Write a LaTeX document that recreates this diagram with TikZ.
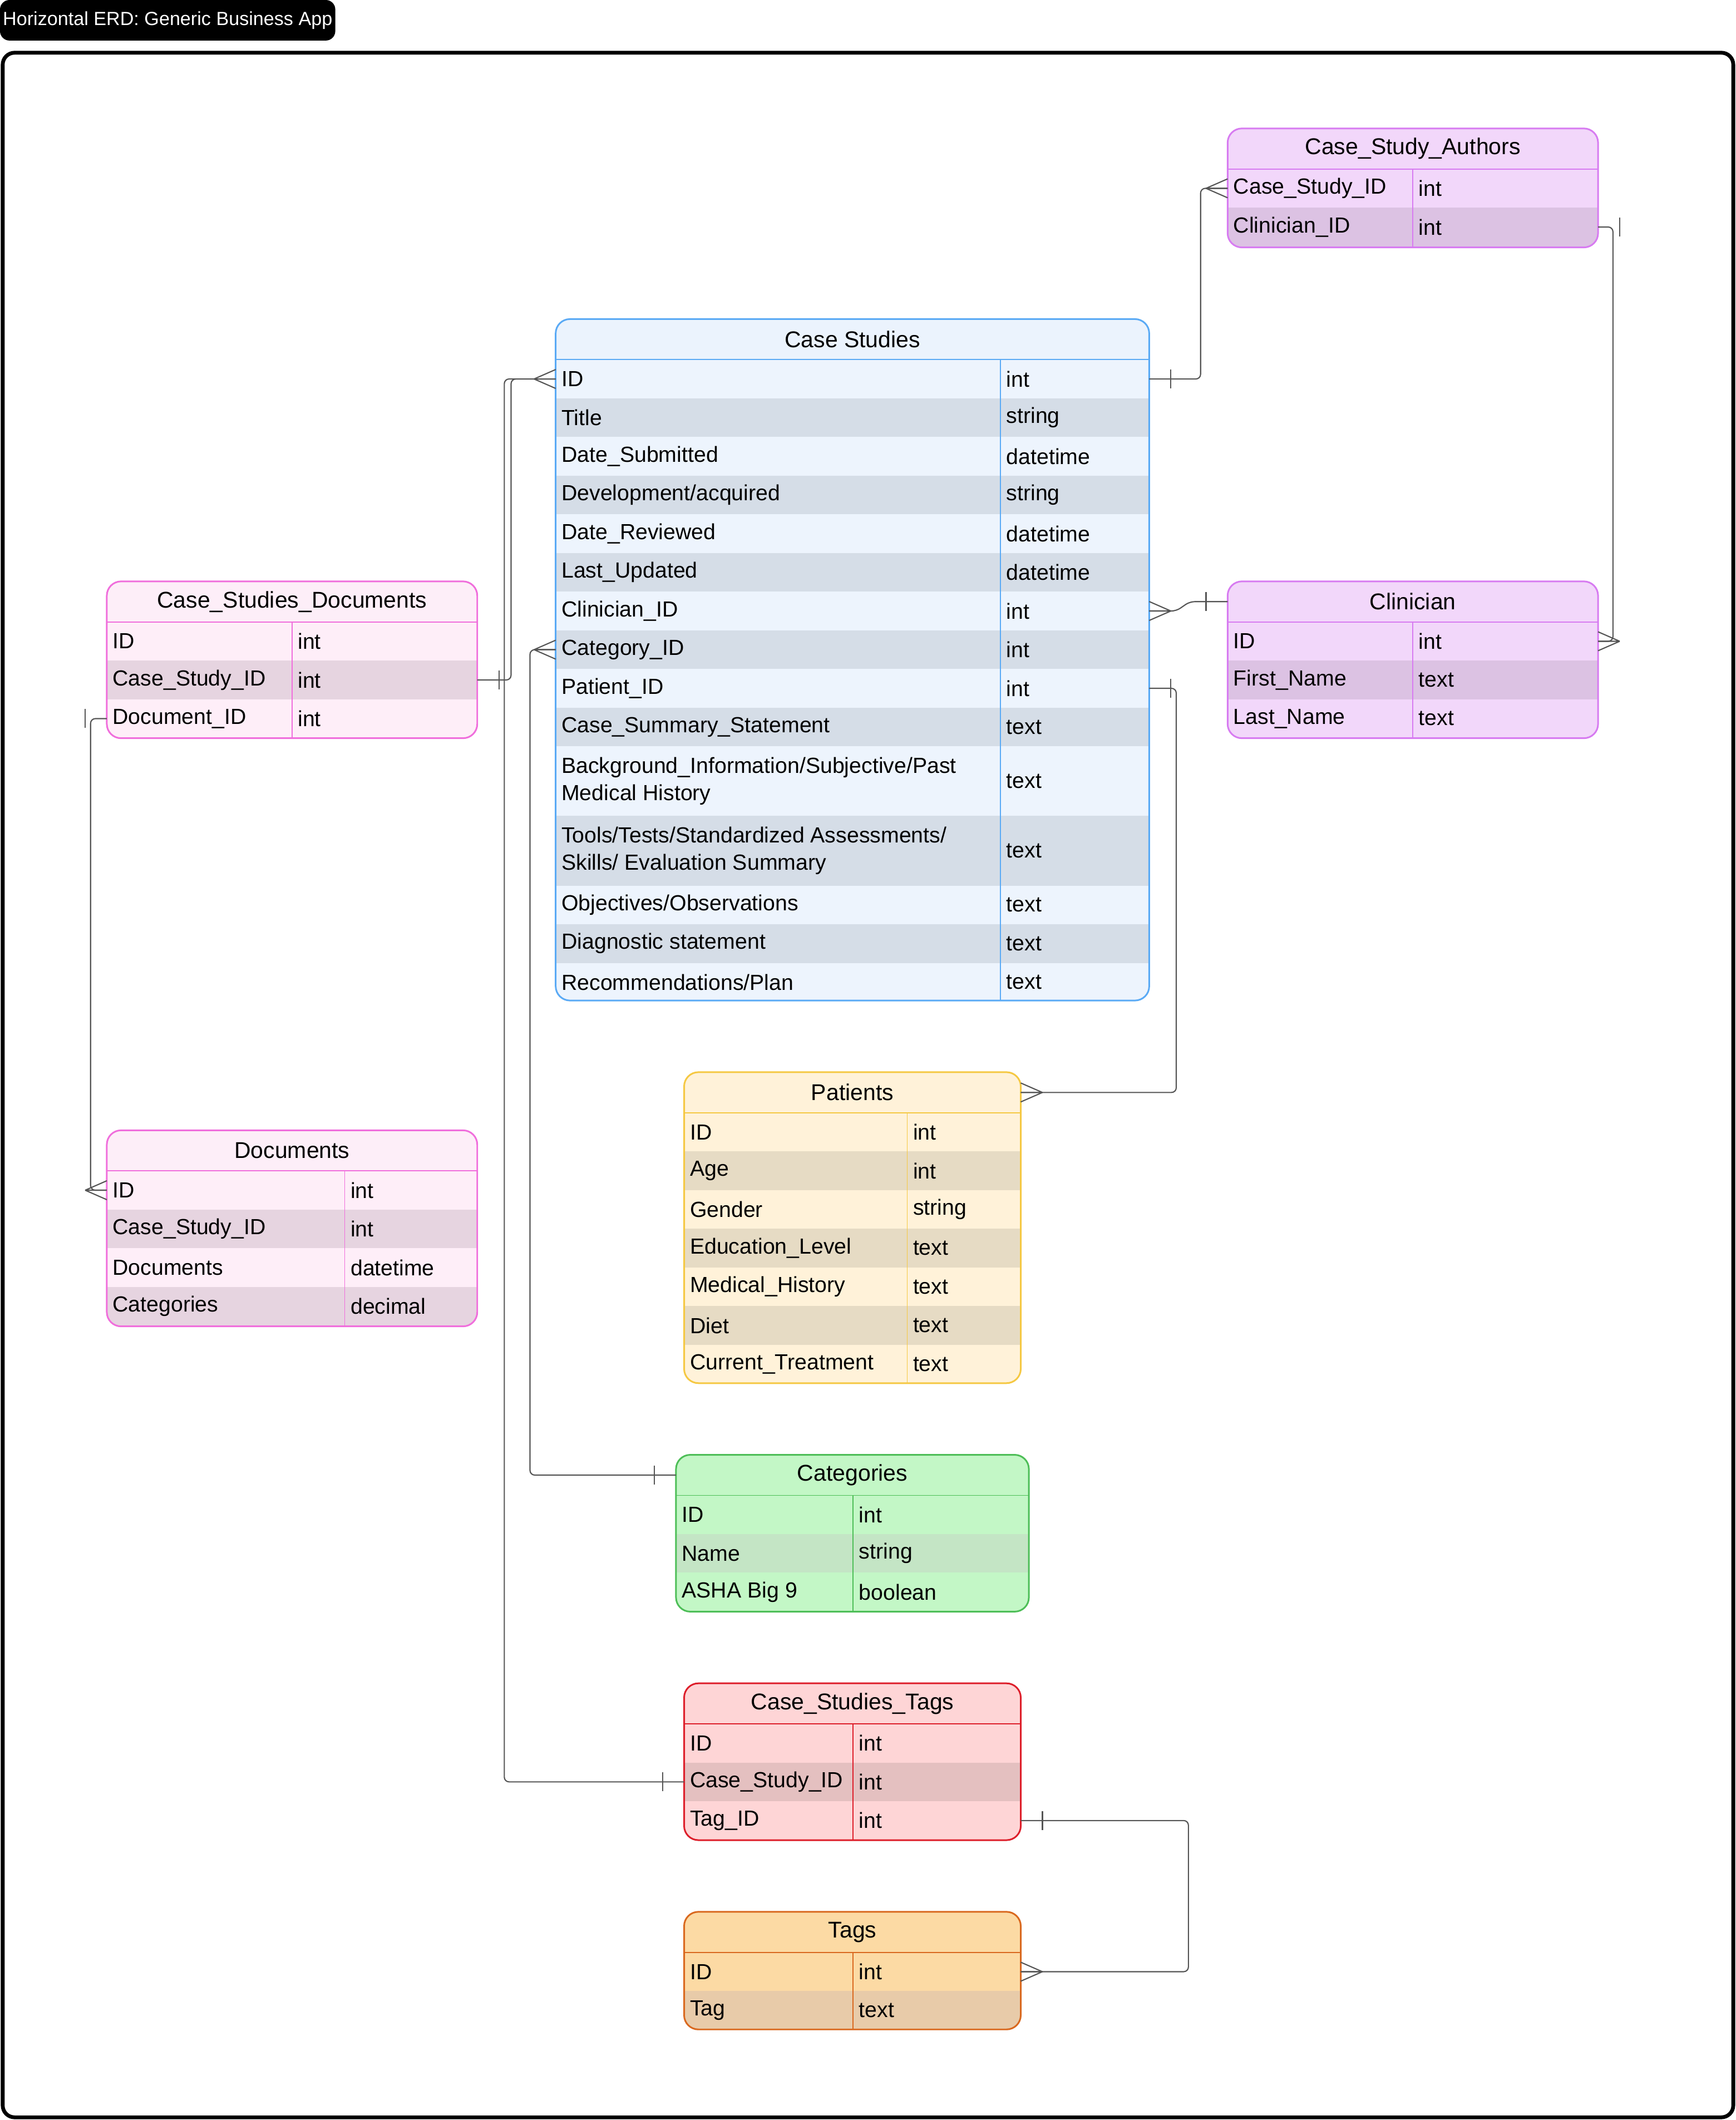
\documentclass[tikz,border=0pt]{standalone}
\usepackage{fontspec}
\setmainfont{Liberation Sans}
\usetikzlibrary{calc}
\definecolor{cshd}{HTML}{EBF3FD}\definecolor{csl}{HTML}{EDF4FD}\definecolor{csd}{HTML}{D5DDE7}\definecolor{csb}{HTML}{5AAAF5}
\definecolor{pkhd}{HTML}{FDEEF8}\definecolor{pkl}{HTML}{FEEEF8}\definecolor{pkd}{HTML}{E6D4E0}\definecolor{pkb}{HTML}{F06EDC}
\definecolor{puhd}{HTML}{F2D7FA}\definecolor{pul}{HTML}{F2D7FA}\definecolor{pud}{HTML}{DCC2E3}\definecolor{pub}{HTML}{D77BF1}
\definecolor{yehd}{HTML}{FFF2D9}\definecolor{yel}{HTML}{FFF2D9}\definecolor{yed}{HTML}{E6DBC4}\definecolor{yeb}{HTML}{F5C842}
\definecolor{grhd}{HTML}{C3F7C6}\definecolor{grl}{HTML}{C3F7C6}\definecolor{grd}{HTML}{C4E5C5}\definecolor{grb}{HTML}{4DBE57}
\definecolor{rdhd}{HTML}{FED5D6}\definecolor{rdl}{HTML}{FED5D6}\definecolor{rdd}{HTML}{E4C0C0}\definecolor{rdb}{HTML}{DD1E2A}
\definecolor{orhd}{HTML}{FCDAA4}\definecolor{orl}{HTML}{FCDAA4}\definecolor{ord}{HTML}{E8CBA9}\definecolor{orb}{HTML}{D9681E}
\definecolor{linkgray}{HTML}{555555}
\tikzset{
  cell/.style={anchor=west, inner sep=0pt, align=left, font=\fontsize{9.2}{11.5}\selectfont},
  ttl/.style={inner sep=0pt, font=\fontsize{9.6}{11.5}\selectfont},
  link/.style={draw=linkgray, line width=0.5pt, rounded corners=2pt},
  endmark/.style={draw=linkgray, line width=0.5pt}
}
% #1 name, #2 left, #3 top, #4 right, #5 bottom, #6 split, #7 colour prefix, #8 title, #9 rows
\newcommand{\erdtable}[9]{%
  \begin{scope}
    \clip[rounded corners=6] (#2,#3) rectangle (#4,#5);
    \fill[#7hd] (#2,#3) rectangle (#4,#3+30);
    \xdef\ycur{\number\numexpr#3+30\relax}
    \foreach \f/\t/\h [count=\i] in {#9} {
      \pgfmathsetmacro\ynext{\ycur+\h}
      \pgfmathsetmacro\ymid{\ycur+\h/2}
      \ifodd\i \fill[#7l] (#2,\ycur) rectangle (#4,\ynext);
      \else \fill[#7d] (#2,\ycur) rectangle (#4,\ynext); \fi
      \coordinate (#1-\i-l) at (#2,\ymid);
      \coordinate (#1-\i-r) at (#4,\ymid);
      \node[cell] at (#2+4,\ymid) {\f};
      \node[cell] at (#6+4,\ymid) {\t};
      \xdef\ycur{\ynext}
    }
  \end{scope}
  \draw[#7b] (#2,#3+30) -- (#4,#3+30) (#6,#3+30) -- (#6,#5);
  \draw[#7b, line width=0.7pt, rounded corners=6] (#2,#3) rectangle (#4,#5);
  \node[ttl] (#1) at ({(#2+#4)/2},#3+15) {#8};
  \coordinate (#1-h-l) at (#2,#3+15);
  \coordinate (#1-h-r) at (#4,#3+15);
}
% crow's foot / bar at an entity edge, #2 = side (1 right, -1 left)
\newcommand{\crow}[2]{\draw[endmark] ($(#1)+(#2*16,0)$) -- ($(#1)+(0,-7)$) ($(#1)+(#2*16,0)$) -- ($(#1)+(0,7)$) ($(#1)+(#2*16,0)$) -- (#1);}
\newcommand{\onebar}[2]{\draw[endmark] ($(#1)+(#2*16,-7)$) -- ++(0,14);}
\begin{document}
\begin{tikzpicture}[x=0.02cm, y=-0.02cm]
  \useasboundingbox (0,0) rectangle (1284,1568);
  \node[fill=black, text=white, rounded corners=4, minimum width=248*0.02cm, minimum height=30*0.02cm,
    inner sep=0pt, font=\fontsize{8}{10}\selectfont] (banner) at (124,15) {Horizontal ERD: Generic Business App};
  \draw[line width=1.6pt, rounded corners=5] (2,39) rectangle (1282,1566);

  \erdtable{csa}{908}{95}{1182}{183}{1045}{pu}{Case\_Study\_Authors}
    {Case\_Study\_ID/int/28.6, Clinician\_ID/int/28.6}
  \erdtable{cs}{411}{236}{850}{740}{740}{cs}{Case Studies}
    {ID/int/28.6, Title/string/28.6, Date\_Submitted/datetime/28.6, {Development/acquired}/string/28.6,
     Date\_Reviewed/datetime/28.6, Last\_Updated/datetime/28.6, Clinician\_ID/int/28.6,
     Category\_ID/int/28.6, Patient\_ID/int/28.6, Case\_Summary\_Statement/text/28.6,
     {Background\_Information/Subjective/Past\\Medical History}/text/51.5,
     {Tools/Tests/Standardized Assessments/\\Skills/ Evaluation Summary}/text/51.5,
     {Objectives/Observations}/text/28.6, Diagnostic statement/text/28.6, {Recommendations/Plan}/text/28.6}
  \erdtable{csd}{79}{430}{353}{546}{216}{pk}{Case\_Studies\_Documents}
    {ID/int/28.6, Case\_Study\_ID/int/28.6, Document\_ID/int/28.6}
  \erdtable{cl}{908}{430}{1182}{546}{1045}{pu}{Clinician}
    {ID/int/28.6, First\_Name/text/28.6, Last\_Name/text/28.6}
  \erdtable{pa}{506}{793}{755}{1023}{671}{ye}{Patients}
    {ID/int/28.6, Age/int/28.6, Gender/string/28.6, Education\_Level/text/28.6,
     Medical\_History/text/28.6, Diet/text/28.6, Current\_Treatment/text/28.6}
  \erdtable{doc}{79}{836}{353}{981}{255}{pk}{Documents}
    {ID/int/28.6, Case\_Study\_ID/int/28.6, Documents/datetime/28.6, Categories/decimal/28.6}
  \erdtable{cat}{500}{1076}{761}{1192}{631}{gr}{Categories}
    {ID/int/28.6, Name/string/28.6, ASHA Big 9/boolean/28.6}
  \erdtable{cst}{506}{1245}{755}{1361}{631}{rd}{Case\_Studies\_Tags}
    {ID/int/28.6, Case\_Study\_ID/int/28.6, Tag\_ID/int/28.6}
  \erdtable{tg}{506}{1414}{755}{1501}{631}{or}{Tags}
    {ID/int/28.6, Tag/text/28.6}

  % relations
  \draw[link] (cs-1-r) -- ++(38,0) |- (csa-1-l);
  \onebar{cs-1-r}{1} \crow{csa-1-l}{-1}
  \draw[link] (csa-2-r) -- ++(11,0) |- (cl-1-r);
  \onebar{csa-2-r}{1} \crow{cl-1-r}{1}
  \draw[link] (cs-7-r) -- ++(20,0) -- ($(cl-h-l)+(-28,0)$) -- (cl-h-l);
  \crow{cs-7-r}{1} \onebar{cl-h-l}{-1}
  \draw[link] (cs-9-r) -- ++(20,0) |- (pa-h-r);
  \onebar{cs-9-r}{1} \crow{pa-h-r}{1}
  \draw[link] (cs-1-l) -- ++(-38,0) |- (cst-2-l);
  \crow{cs-1-l}{-1} \onebar{cst-2-l}{-1}
  \draw[link] (csd-2-r) -- ++(25,0) |- (cs-1-l);
  \onebar{csd-2-r}{1}
  \draw[link] (cs-8-l) -- ++(-19,0) |- (cat-h-l);
  \crow{cs-8-l}{-1} \onebar{cat-h-l}{-1}
  \draw[link] (csd-3-l) -- ++(-12,0) |- (doc-1-l);
  \onebar{csd-3-l}{-1} \crow{doc-1-l}{-1}
  \draw[link] (cst-3-r) -- ++(124,0) |- (tg-1-r);
  \onebar{cst-3-r}{1} \crow{tg-1-r}{1}
\end{tikzpicture}
\end{document}
